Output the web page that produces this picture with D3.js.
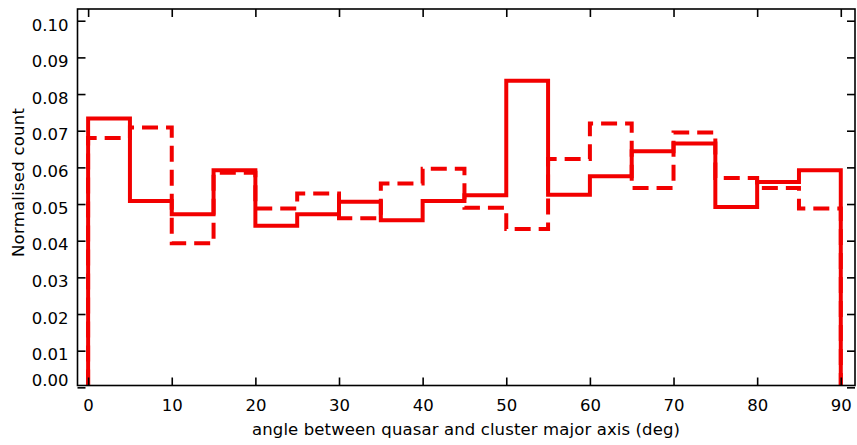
<!DOCTYPE html>
<html>
<head>
<meta charset="utf-8">
<script src="https://cdn.jsdelivr.net/npm/d3@7/dist/d3.min.js"></script>
<style>
  html, body { margin: 0; padding: 0; background: #fff; }
  svg { display: block; font-family: "DejaVu Sans", Verdana, sans-serif; }
</style>
</head>
<body>
<svg id="chart" width="857" height="445"></svg>
<script>
// Histogram bin edges (degrees) and normalised counts per 5-degree bin
const binEdges = [0, 5, 10, 15, 20, 25, 30, 35, 40, 45, 50, 55, 60, 65, 70, 75, 80, 85, 90];
const solidCounts = [0.0733, 0.0508, 0.0472, 0.0592, 0.0441, 0.0472, 0.0506, 0.0456, 0.0508,
                     0.0524, 0.0836, 0.0525, 0.0576, 0.0644, 0.0665, 0.0492, 0.0560, 0.0592];
const dashedCounts = [0.0680, 0.0709, 0.0393, 0.0585, 0.0488, 0.0529, 0.0461, 0.0556, 0.0596,
                      0.0490, 0.0432, 0.0623, 0.0720, 0.0544, 0.0695, 0.0571, 0.0544, 0.0488];
const xTicks = [0, 10, 20, 30, 40, 50, 60, 70, 80, 90];
const yTicks = [0.00, 0.01, 0.02, 0.03, 0.04, 0.05, 0.06, 0.07, 0.08, 0.09, 0.10];

const svg = d3.select("#chart");
const frame = { left: 77.5, right: 855, top: 9, bottom: 385.5 };

const x = d3.scaleLinear().domain([-1.27, 91.7]).range([frame.left, frame.right]);
const y = d3.scaleLinear().domain([0.0005, 0.1032]).range([frame.bottom, frame.top]);

// Step outline of a histogram, starting and ending on zero
function stepPoints(counts) {
  const pts = [[binEdges[0], 0]];
  counts.forEach((c, i) => {
    pts.push([binEdges[i], c]);
    pts.push([binEdges[i + 1], c]);
  });
  pts.push([binEdges[binEdges.length - 1], 0]);
  return pts;
}

const line = d3.line().x(d => x(d[0])).y(d => y(Math.max(d[1], y.domain()[0])));

const clipId = "plot-clip";
svg.append("clipPath").attr("id", clipId)
  .append("rect").attr("x", frame.left).attr("y", frame.top)
  .attr("width", frame.right - frame.left).attr("height", frame.bottom - frame.top);
const plot = svg.append("g").attr("clip-path", `url(#${clipId})`);

plot.append("path")
  .attr("d", line(stepPoints(dashedCounts)))
  .attr("fill", "none")
  .attr("stroke", "#f20000")
  .attr("stroke-width", 4)
  .attr("stroke-dasharray", "16,8");

plot.append("path")
  .attr("d", line(stepPoints(solidCounts)))
  .attr("fill", "none")
  .attr("stroke", "#f20000")
  .attr("stroke-width", 4);

// Axes: ticks point inward on all four sides
const tickLen = 8;
const axB = svg.append("g").attr("transform", `translate(0,${frame.bottom})`)
  .call(d3.axisBottom(x).tickValues(xTicks).tickSize(-tickLen).tickPadding(14).tickFormat(d3.format("d")));
const axT = svg.append("g").attr("transform", `translate(0,${frame.top})`)
  .call(d3.axisTop(x).tickValues(xTicks).tickSize(-tickLen).tickFormat(""));
const axL = svg.append("g").attr("transform", `translate(${frame.left},0)`)
  .call(d3.axisLeft(y).tickValues(yTicks).tickSize(-tickLen).tickPadding(9).tickFormat(d3.format(".2f")));
const axR = svg.append("g").attr("transform", `translate(${frame.right},0)`)
  .call(d3.axisRight(y).tickValues(yTicks).tickSize(-tickLen).tickFormat(""));

[axB, axT, axL, axR].forEach(g => {
  g.select(".domain").remove();
  g.selectAll(".tick line").attr("stroke", "#000").attr("stroke-width", 1.6);
  g.selectAll(".tick text").attr("fill", "#000").attr("font-size", "16.5px")
    .attr("font-family", "'DejaVu Sans', Verdana, sans-serif");
});

// Y labels sit a little below their ticks; the zero label is lifted inside the frame
axL.selectAll(".tick text")
  .attr("transform", d => d === 0 ? "translate(0,-7)" : "translate(0,4)");

// Frame
svg.append("rect")
  .attr("x", frame.left).attr("y", frame.top)
  .attr("width", frame.right - frame.left).attr("height", frame.bottom - frame.top)
  .attr("fill", "none").attr("stroke", "#000").attr("stroke-width", 1.6);

// Axis titles
svg.append("text")
  .attr("x", 252).attr("y", 435)
  .attr("font-size", "16.5px")
  .attr("textLength", 428)
  .attr("lengthAdjust", "spacing")
  .attr("fill", "#000")
  .text("angle between quasar and cluster major axis (deg)");

svg.append("text")
  .attr("transform", "translate(23.5,257) rotate(-90)")
  .attr("font-size", "16.5px")
  .attr("textLength", 149)
  .attr("lengthAdjust", "spacing")
  .attr("fill", "#000")
  .text("Normalised count");
</script>
</body>
</html>
